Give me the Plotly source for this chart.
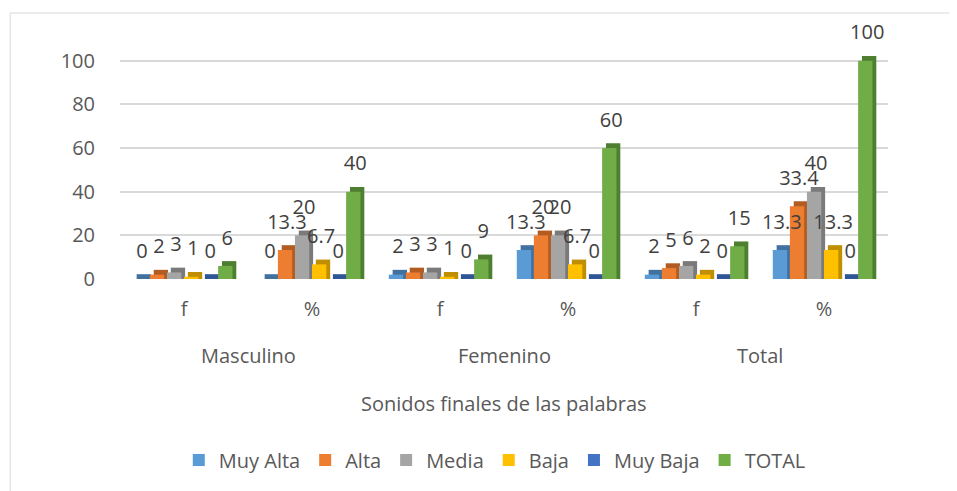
import plotly.graph_objects as go

groups = ["Masculino", "Masculino", "Femenino", "Femenino", "Total", "Total"]
subcats = ["f", "%", "f", "%", "f", "%"]

muy_alta = [0, 0, 2, 13.3, 2, 13.3]
alta = [2, 13.3, 3, 20, 5, 33.4]
media = [3, 20, 3, 20, 6, 40]
baja = [1, 6.7, 1, 6.7, 2, 13.3]
muy_baja = [0, 0, 0, 0, 0, 0]
total = [6, 40, 9, 60, 15, 100]

series = [
    ("Muy Alta", muy_alta, "#5B9BD5", "#41729F"),
    ("Alta", alta, "#ED7D31", "#B25C22"),
    ("Media", media, "#A5A5A5", "#7A7A7A"),
    ("Baja", baja, "#FFC000", "#BF8F00"),
    ("Muy Baja", muy_baja, "#4472C4", "#2F5597"),
    ("TOTAL", total, "#70AD47", "#4E7F30"),
]

xpos = list(range(len(subcats)))
slot = 0.8 / len(series)
bw = 0.112      # front face width (category units)
dx = 0.03       # fake 3D depth, horizontal
dy = 2.2        # fake 3D depth, vertical (value units)
lab = 7.5       # label lift above bar

# plot area: 0 at y=271px, 110 at top; keeps 100 at the same height as before
T, B = 31, 220
H = 491 - T - B


def py(px):
    # pixel row (from top of figure) -> paper y
    return (491 - B - px) / H


fig = go.Figure()
for i, (name, vals, col, dark) in enumerate(series):
    off = -0.4 + i * slot
    # side/top (depth) face
    fig.add_trace(go.Bar(x=xpos, y=[v + dy for v in vals], offset=off + dx, width=bw,
                         marker=dict(color=dark, line=dict(width=0)),
                         showlegend=False, hoverinfo="skip"))
    # front face
    fig.add_trace(go.Bar(x=xpos, y=vals, offset=off, width=bw, name=name,
                         marker=dict(color=col, line=dict(width=0))))

# data labels on top of everything
for i, (name, vals, col, dark) in enumerate(series):
    off = -0.4 + i * slot
    fig.add_trace(go.Scatter(x=[x + off + (bw + dx) / 2 for x in xpos],
                             y=[v + lab for v in vals], mode="text",
                             text=[f"{v:g}" for v in vals], textposition="top center",
                             textfont=dict(size=20, color="#404040"),
                             cliponaxis=False, showlegend=False, hoverinfo="skip"))

# group labels under the f / % ticks
annotations = []
for g in dict.fromkeys(groups):
    idx = [k for k, gg in enumerate(groups) if gg == g]
    annotations.append(dict(x=sum(idx) / len(idx), y=py(347), xref="x", yref="paper",
                            text=g, showarrow=False, yanchor="middle",
                            font=dict(size=20, color="#595959")))
annotations.append(dict(x=0.5, y=py(395), xref="paper", yref="paper",
                        text="Sonidos finales de las palabras", showarrow=False,
                        yanchor="middle", font=dict(size=20, color="#595959")))

fig.update_layout(
    width=957, height=491,
    margin=dict(l=112, r=77, t=T, b=B),
    paper_bgcolor="white", plot_bgcolor="white",
    font=dict(family="Open Sans, sans-serif", color="#595959"),
    barmode="overlay",
    legend=dict(orientation="h", x=0.488, xanchor="center", y=py(452), yanchor="middle",
                font=dict(size=20, color="#595959"), itemwidth=30, traceorder="normal"),
    xaxis=dict(range=[-0.5, 5.5], tickvals=xpos, ticktext=subcats, showgrid=False,
               zeroline=False, showline=False, ticks="", ticklabelstandoff=16,
               tickfont=dict(size=20, color="#595959")),
    yaxis=dict(range=[0, 110], tickvals=[0, 20, 40, 60, 80, 100], showgrid=True,
               gridcolor="#D9D9D9", gridwidth=2, zeroline=False, showline=False, ticks="",
               ticklabelstandoff=24, tickfont=dict(size=20, color="#595959")),
    annotations=annotations,
    shapes=[dict(type="rect", xref="paper", yref="paper", x0=-0.143, x1=1.3, y0=-1.3, y1=py(5),
                 line=dict(color="#D9D9D9", width=1))],
)

fig.write_html("out.html")
